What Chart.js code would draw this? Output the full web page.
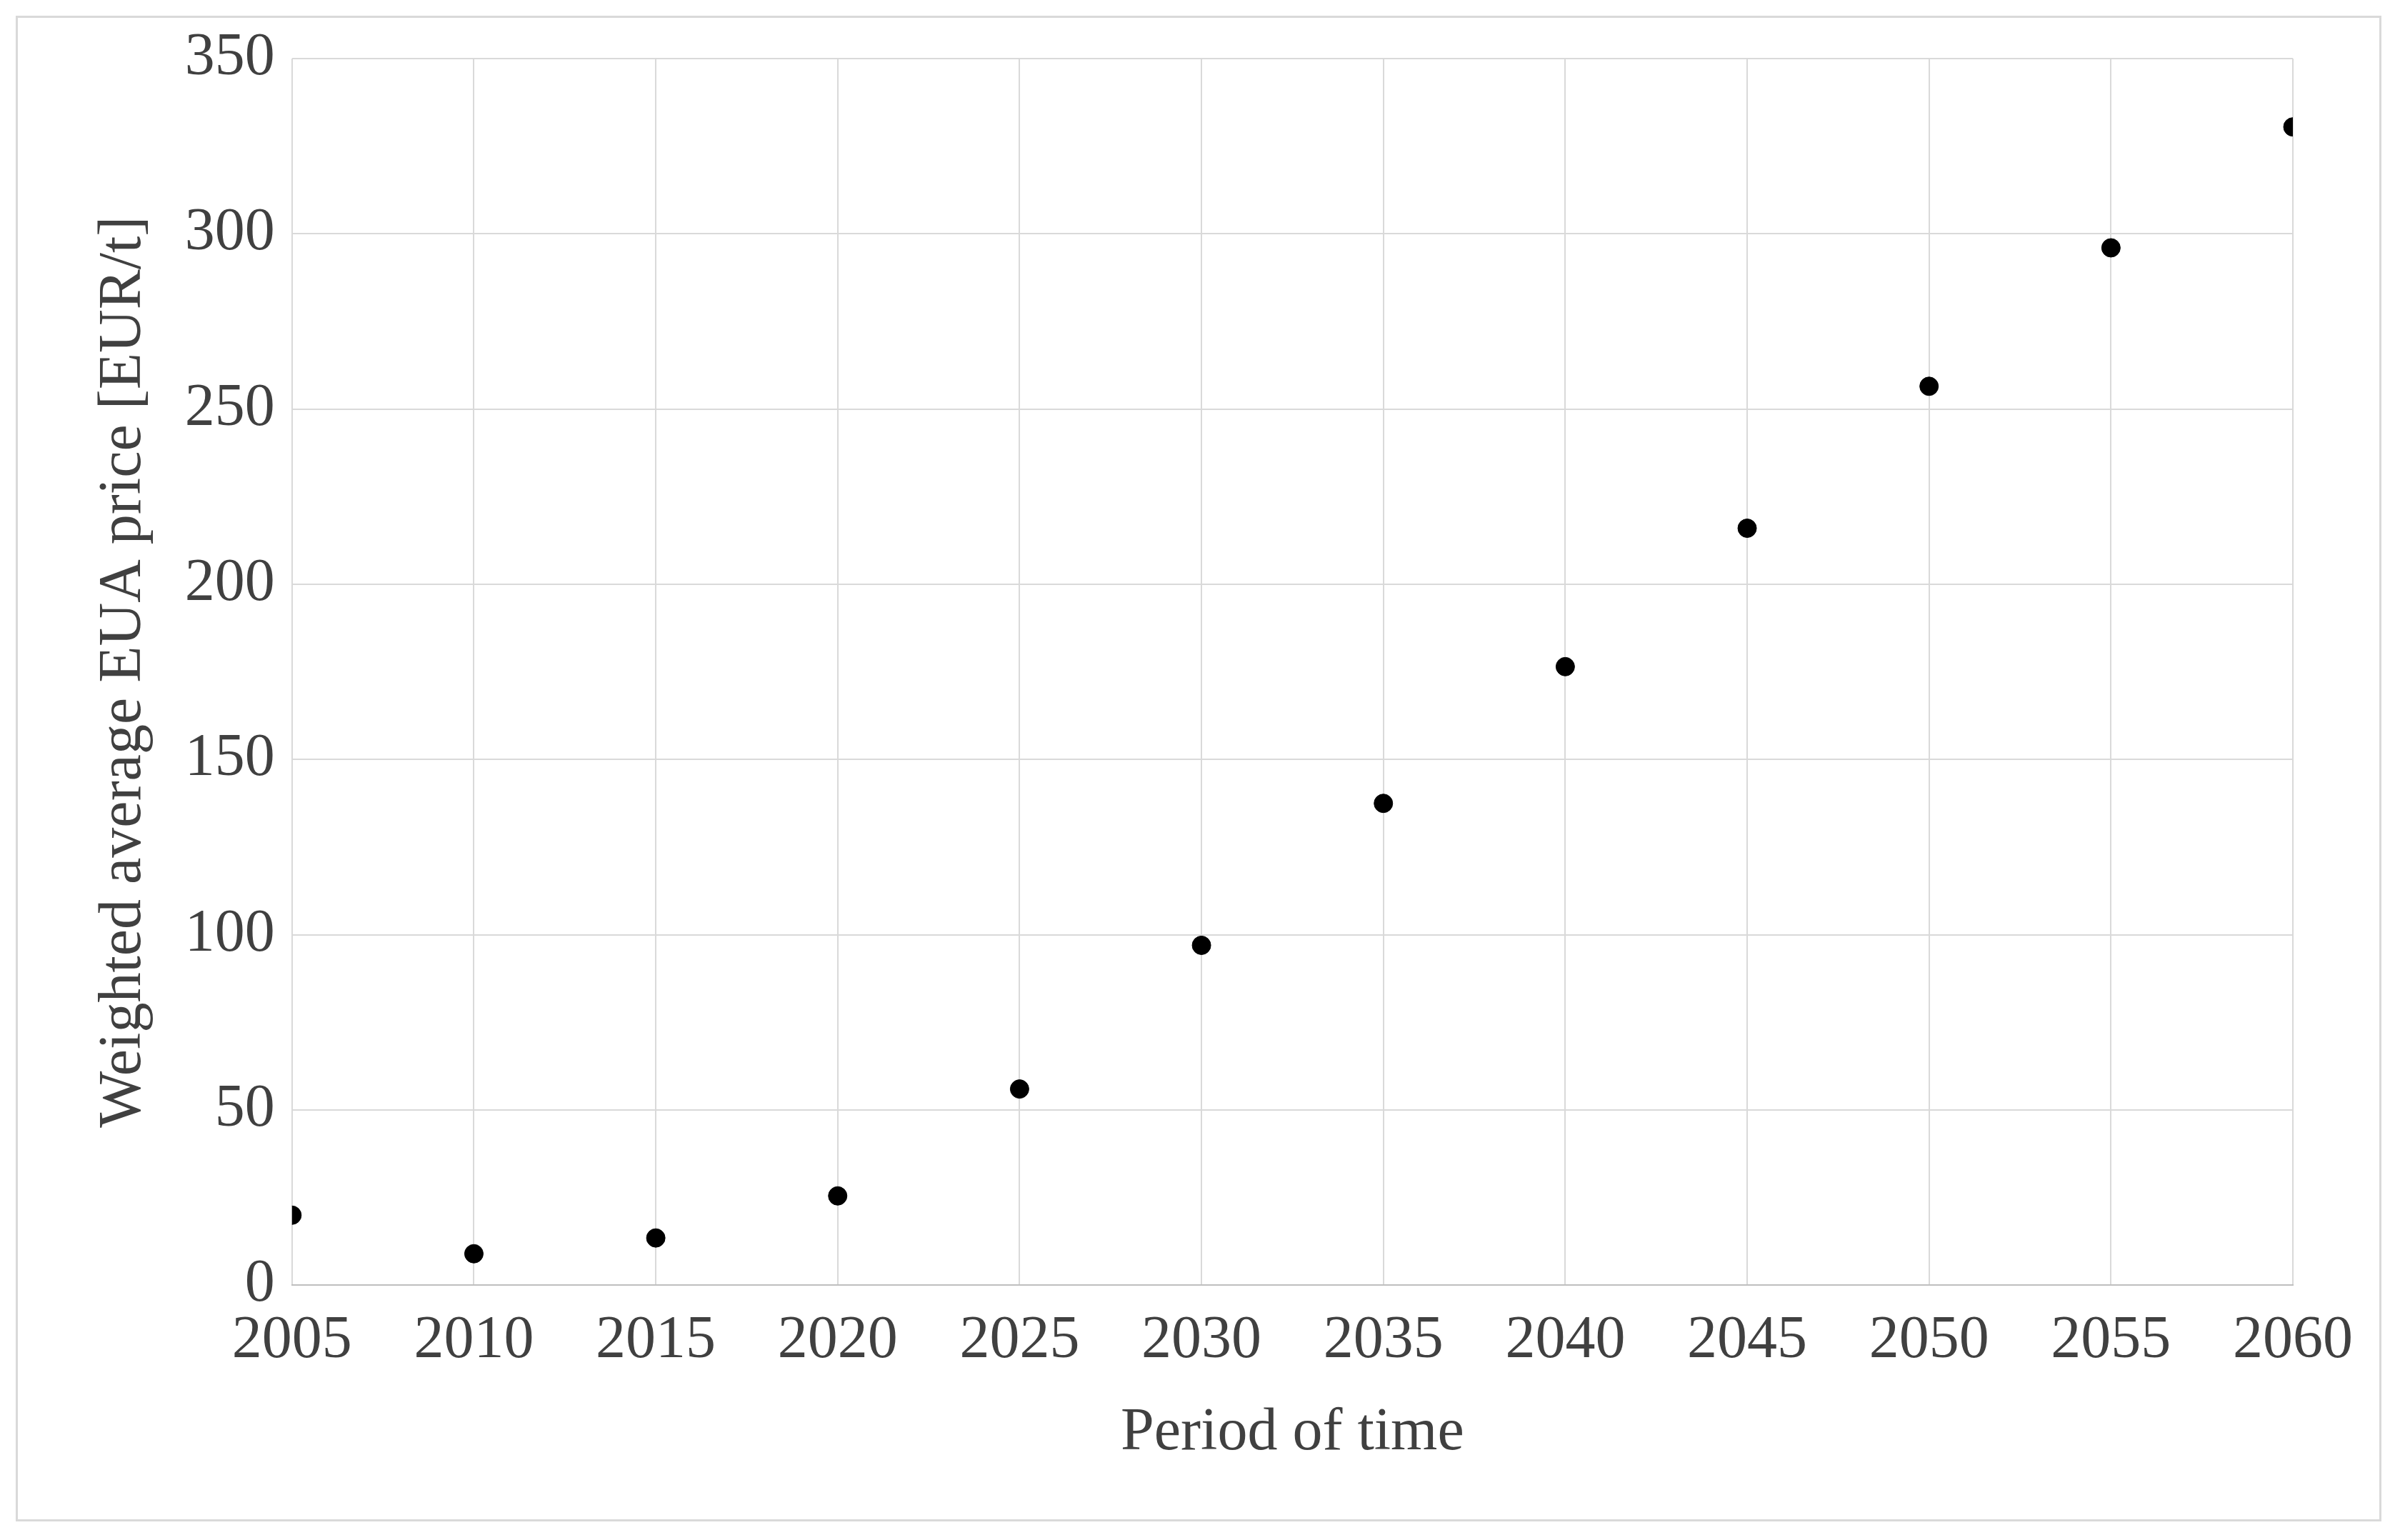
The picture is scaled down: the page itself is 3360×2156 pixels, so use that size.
<!DOCTYPE html>
<html><head><meta charset="utf-8">
<script src="https://cdn.jsdelivr.net/npm/chart.js@4"></script>
<style>
html,body{margin:0;padding:0;background:#fff;}
#wrap{position:absolute;left:0;top:0;width:3360px;height:2156px;}
#frame{position:absolute;left:22px;top:22px;width:3312px;height:2108px;border:3px solid #d9d9d9;box-sizing:border-box;}
</style></head>
<body>
<div id="wrap"><div id="frame"></div><canvas id="c" width="3360" height="2156"></canvas></div>
<script>
const years = [2005,2010,2015,2020,2025,2030,2035,2040,2045,2050,2055,2060];
const prices = [20,9,13.5,25.5,56,97,137.5,176.5,216,256.5,296,330.5];
const xTitle = "Period of time";
const yTitle = "Weighted average EUA price [EUR/t]";
const font = {family:"'Liberation Serif','Times New Roman',serif", size:84};
new Chart(document.getElementById('c'), {
  type:'scatter',
  data:{datasets:[{data:years.map((y,i)=>({x:y,y:prices[i]})),backgroundColor:'#000',borderColor:'#000',pointRadius:13}]},
  options:{
    responsive:false, animation:false,
    layout:{padding:{left:120,right:150,top:82,bottom:95}},
    plugins:{legend:{display:false},tooltip:{enabled:false}},
    scales:{
      x:{type:'linear',min:2005,max:2060,
        ticks:{stepSize:5,color:'#404040',font,padding:28,callback:v=>String(v)},
        grid:{color:'#d9d9d9',lineWidth:2,drawTicks:false},border:{display:true,color:'#bfbfbf',width:2},
        title:{display:true,text:xTitle,color:'#404040',font,padding:{top:0}}},
      y:{min:0,max:350,
        ticks:{stepSize:50,color:'#404040',font,padding:24},
        grid:{color:'#d9d9d9',lineWidth:2,drawTicks:false},border:{display:false},
        title:{display:true,text:yTitle,color:'#404040',font,padding:{bottom:10}}}
    }
  }
});
</script>
</body></html>
